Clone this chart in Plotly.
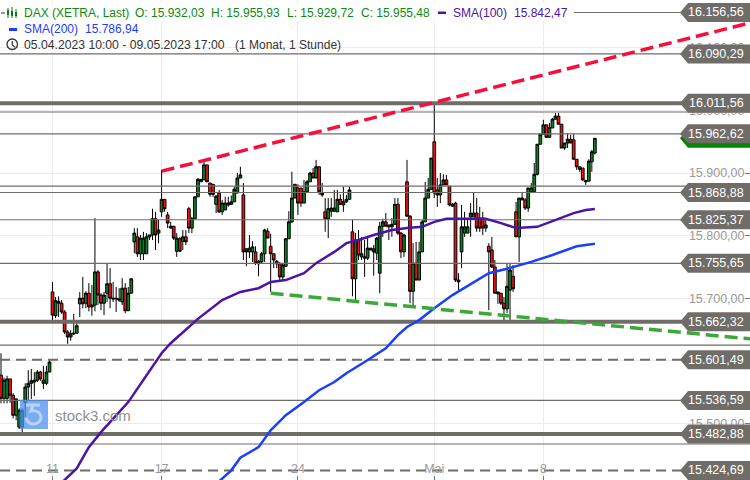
import plotly.graph_objects as go

# ---- candle data (one row per hourly bar: open, high, low, close)
ohlc = [
(15577,15612,15532,15540),(15540,15573,15532,15569),(15540,15576,15532,15571),(15571,15571,15533,15545),
(15545,15548,15508,15513),(15513,15540,15505,15539),(15494,15524,15491,15521),(15494,15524,15486,15521),
(15533,15564,15510,15558),(15558,15585,15537,15564),(15564,15587,15539,15568),(15566,15582,15544,15569),
(15569,15585,15566,15582),(15582,15584,15568,15571),(15569,15592,15555,15564),(15564,15592,15561,15582),
(15582,15601,15582,15598),
(15710,15726,15665,15673),(15672,15702,15668,15696),(15692,15703,15670,15695),(15692,15697,15675,15678),
(15678,15681,15643,15646),(15646,15649,15627,15638),(15638,15649,15632,15643),(15643,15675,15641,15644),
(15644,15660,15644,15656),
(15691,15710,15670,15700),
(15700,15734,15684,15691),(15692,15711,15684,15708),(15708,15724,15679,15686),(15686,15721,15672,15689),
(15689,15828,15679,15742),(15742,15745,15689,15705),(15705,15708,15681,15692),(15692,15710,15673,15705),
(15708,15755,15694,15723),(15723,15748,15684,15700),(15700,15726,15694,15699),(15700,15718,15678,15699),
(15699,15716,15694,15697),(15694,15732,15689,15716),(15716,15724,15676,15680),(15680,15718,15680,15708),
(15708,15732,15708,15731),
(15790,15812,15772,15804),(15798,15812,15766,15771),(15771,15801,15761,15796),(15771,15806,15761,15796),
(15771,15804,15771,15798),(15798,15801,15793,15801),(15801,15843,15793,15827),(15827,15838,15777,15801),
(15804,15825,15788,15809),
(15838,15905,15830,15858),(15858,15858,15838,15843),(15833,15838,15812,15820),(15812,15822,15811,15815),
(15815,15815,15793,15796),(15775,15804,15766,15796),(15795,15798,15774,15775),(15791,15809,15777,15798),
(15798,15809,15785,15790),
(15843,15846,15804,15812),(15812,15830,15804,15827),(15827,15862,15827,15862),(15862,15892,15862,15890),
(15886,15890,15886,15890),(15889,15918,15889,15913),(15913,15913,15886,15886),(15884,15884,15862,15866),
(15882,15882,15862,15866),
(15850,15865,15836,15863),(15868,15873,15836,15838),(15838,15857,15833,15852),(15841,15862,15841,15852),
(15849,15862,15846,15852),(15850,15864,15849,15854),(15854,15878,15854,15874),(15868,15900,15868,15892),
(15892,15910,15892,15897),
(15865,15884,15761,15774),(15779,15779,15751,15774),(15774,15801,15764,15780),(15774,15791,15758,15782),
(15774,15783,15753,15756),(15759,15761,15735,15755),(15758,15774,15756,15771),(15771,15811,15758,15809),
(15807,15812,15796,15796),
(15783,15803,15710,15771),(15771,15771,15748,15761),(15759,15761,15748,15755),(15755,15758,15729,15734),
(15734,15756,15729,15753),(15751,15796,15751,15795),(15795,15839,15795,15822),(15822,15902,15820,15860),
(15860,15882,15860,15882),
(15876,15882,15833,15852),(15876,15876,15846,15852),(15852,15889,15852,15870),(15870,15889,15870,15886),
(15886,15902,15886,15900),(15900,15908,15892,15892),(15892,15921,15892,15910),(15910,15911,15865,15870),
(15868,15884,15862,15865),
(15838,15860,15806,15827),(15827,15860,15796,15843),(15839,15860,15830,15844),(15839,15873,15838,15844),
(15838,15873,15838,15858),(15858,15866,15849,15850),(15849,15878,15838,15854),(15854,15865,15852,15858),
(15858,15878,15858,15873),
(15806,15825,15703,15731),(15731,15804,15697,15793),(15793,15809,15761,15769),(15766,15798,15761,15771),
(15764,15793,15734,15766),(15764,15798,15761,15780),(15777,15780,15777,15780),(15779,15785,15736,15774),
(15772,15798,15761,15796),
(15740,15822,15708,15815),(15815,15827,15798,15822),(15822,15836,15815,15815),(15817,15817,15793,15814),
(15814,15828,15798,15818),(15818,15860,15818,15850),(15850,15860,15801,15804),(15804,15806,15764,15774),
(15774,15803,15766,15801),
(15886,15921,15830,15831),(15831,15833,15692,15711),(15711,15788,15689,15756),(15756,15790,15729,15729),
(15729,15790,15729,15774),(15774,15825,15774,15822),(15822,15886,15822,15860),(15860,15892,15860,15874),
(15874,15924,15874,15924),
(15950,16012,15860,15868),(15873,15892,15846,15865),(15865,15900,15852,15881),(15881,15898,15881,15889),
(15889,15897,15881,15881),(15879,15879,15847,15849),(15847,15852,15846,15850),(15852,15854,15726,15729),
(15729,15740,15713,15726),
(15774,15849,15748,15814),(15804,15838,15798,15814),(15804,15825,15804,15814),(15830,15852,15798,15836),
(15830,15868,15830,15836),(15836,15860,15806,15812),(15828,15846,15806,15812),(15828,15838,15801,15812),
(15812,15825,15806,15817),
(15783,15788,15681,15774),(15777,15798,15748,15750),(15750,15761,15708,15708),(15707,15710,15691,15710),
(15708,15708,15689,15692),(15692,15702,15665,15683),(15683,15756,15676,15719),(15713,15756,15665,15745),
(15735,15753,15710,15715),
(15838,15854,15798,15798),(15798,15860,15758,15860),(15860,15868,15857,15857),(15857,15860,15841,15844),
(15844,15876,15838,15876),(15870,15884,15870,15876),(15870,15916,15870,15898),(15898,15946,15896,15946),
(15946,15962,15946,15962),
(15962,15985,15962,15977),(15977,15977,15957,15957),(15957,15980,15957,15973),(15972,15988,15972,15986),
(15986,15996,15986,15991),(15991,15996,15978,15978),(15978,15978,15940,15940),(15940,15948,15937,15948),
(15948,15964,15940,15954),
(15954,15961,15948,15948),(15953,15962,15922,15922),(15922,15922,15905,15910),(15910,15910,15902,15906),
(15908,15908,15887,15889),(15888,15889,15881,15886),(15887,15922,15887,15919),(15918,15937,15902,15934),
(15932.03,15955.93,15929.72,15955.48),
]
opens = [r[0] for r in ohlc]
highs = [r[1] for r in ohlc]
lows = [r[2] for r in ohlc]
closes = [r[3] for r in ohlc]
bars = list(range(len(ohlc)))

sma100_bar = [20,25,29,33,42,48,53,56,59,65,73,79,85,89,94,100,104,110,114,118,123,129,134,139,143,147,152,160,165,170,177,184,189,193,196]
sma100_val = [15405,15428,15462,15486,15534,15577,15612,15628,15641,15667,15697,15710,15716,15726,15729,15740,15756,15774,15788,15793,15801,15809,15812,15814,15822,15827,15827,15827,15820,15812,15814,15827,15836,15841,15842.47]
sma200_bar = [71,76,79,85,89,94,100,105,110,114,120,123,127,131,134,138,143,149,156,161,167,175,182,190,196]
sma200_val = [15403,15425,15445,15462,15489,15513,15534,15553,15566,15580,15598,15608,15620,15641,15654,15665,15684,15705,15726,15740,15747,15758,15769,15783,15786.94]

res_bar = [53,247.2]
res_val = [15903,16140]
sup_bar = [89,247.2]
sup_val = [15708,15635]

tag_levels = [16156.56,16090.29,16011.56,15962.62,15868.88,15825.37,15755.65,15662.32,15601.49,15536.59,15482.88,15424.69]
tag_text = ["16.156,56","16.090,29","16.011,56","15.962,62","15.868,88","15.825,37","15.755,65","15.662,32","15.601,49","15.536,59","15.482,88","15.424,69"]
thick_levels = [16011.56,15662.32,15482.88]
dashed_levels = [15601.49,15424.69]
extra_levels = [15997.5,15879,15625,15467]

y_ticks = [15500,15600,15700,15800,15900,16000,16100]
y_labels = ["15.500,00","15.600,00","15.700,00","15.800,00","15.900,00","16.000,00","16.100,00"]
x_ticks = [17,53,98,143,179]
x_labels = ["11","17","24","Mai","8"]

last_price = 15955.48

FONT = "Liberation Sans"
GREY = "#706c68"
GREEN = "#087f23"
RED = "#f01010"
PURPLE = "#4a14a8"
BLUE = "#1a40ff"
TXT_GREEN = "#0b8a12"
W, H = 750, 480

def X(p): return p / W
def Y(p): return 1 - p / H

fig = go.Figure()
fig.add_trace(go.Candlestick(
    x=bars, open=opens, high=highs, low=lows, close=closes,
    whiskerwidth=0,
    increasing=dict(line=dict(color="#000000", width=1), fillcolor=GREEN),
    decreasing=dict(line=dict(color="#000000", width=1), fillcolor=RED),
    showlegend=False, hoverinfo="skip"))

x0, x1 = -0.33, 247.2
for lv in tag_levels + extra_levels:
    if lv in thick_levels:
        line = dict(color=GREY, width=4)
    elif lv in dashed_levels:
        line = dict(color=GREY, width=2, dash="10px,6px")
    else:
        line = dict(color=GREY, width=1.2)
    fig.add_trace(go.Scatter(x=[x0, x1], y=[lv, lv], mode="lines", line=line, showlegend=False, hoverinfo="skip"))

fig.add_trace(go.Scatter(x=sma100_bar, y=sma100_val, mode="lines", line=dict(color=PURPLE, width=2.5), showlegend=False, hoverinfo="skip"))
fig.add_trace(go.Scatter(x=sma200_bar, y=sma200_val, mode="lines", line=dict(color=BLUE, width=2.5), showlegend=False, hoverinfo="skip"))
fig.add_trace(go.Scatter(x=res_bar, y=res_val, mode="lines", line=dict(color="#f5103c", width=3.5, dash="13px,6px"), showlegend=False, hoverinfo="skip"))
fig.add_trace(go.Scatter(x=sup_bar, y=sup_val, mode="lines", line=dict(color="#3aa93a", width=3.5, dash="13px,6px"), showlegend=False, hoverinfo="skip"))

shapes = []
half = 9.5 / 0.6258

def tag_path(v):
    a, b, c = X(680), X(688), 1
    return f"M {a},{v} L {b},{v+half} L {c},{v+half} L {c},{v-half} L {b},{v-half} Z"

# current price tag, partly hidden by the level tag
shapes.append(dict(type="path", xref="paper", yref="y", path=tag_path(last_price), fillcolor="#078207", line=dict(width=0), layer="above"))
for v in tag_levels:
    shapes.append(dict(type="path", xref="paper", yref="y", path=tag_path(v), fillcolor=GREY, line=dict(width=0), layer="above"))

def prect(x0_, y0_, x1_, y1_, **kw):
    d = dict(type="rect", xref="paper", yref="paper", x0=X(x0_), x1=X(x1_), y0=Y(y1_), y1=Y(y0_), layer="above")
    d.update(kw)
    return d

def pline(x0_, y0_, x1_, y1_, color, width):
    return dict(type="line", xref="paper", yref="paper", x0=X(x0_), x1=X(x1_), y0=Y(y0_), y1=Y(y1_), layer="above", line=dict(color=color, width=width))

# white background of the title block
shapes.append(prect(0, 3, 574, 21, fillcolor="white", line=dict(width=0)))
# icons of the title block
shapes.append(pline(1, 13, 5, 13, "#333333", 1))
for cx, top, bot, t2, b2 in [(8, 8, 18, 10, 15), (12, 7, 18, 11, 16), (16, 9, 18, 12, 16)]:
    shapes.append(pline(cx, top, cx, bot, "#0a7a1e", 1))
    shapes.append(prect(cx - 1, t2, cx + 1, b2, fillcolor="#0a7a1e", line=dict(width=0)))
shapes.append(prect(438, 11.5, 446, 14, fillcolor=PURPLE, line=dict(width=0)))
shapes.append(prect(9, 28, 17, 31, fillcolor=BLUE, line=dict(width=0)))
shapes.append(dict(type="circle", xref="paper", yref="paper", x0=X(7), x1=X(17.5), y0=Y(49.5), y1=Y(39), layer="above", line=dict(color="#333333", width=1.3)))
shapes.append(pline(12.3, 41, 12.3, 45, "#333333", 1.2))
shapes.append(pline(12.3, 45, 15, 47, "#333333", 1.2))

# stock3 watermark
shapes.append(prect(20, 400, 48, 429, fillcolor="#4d90f0", opacity=0.75, line=dict(width=0)))
logo = f"M {X(26)},{Y(405)} L {X(40)},{Y(405)} M {X(33)},{Y(405)} L {X(31)},{Y(411)} C {X(44)},{Y(409)} {X(44)},{Y(424)} {X(33)},{Y(424)} C {X(29)},{Y(424)} {X(27)},{Y(421)} {X(26)},{Y(418)}"
shapes.append(dict(type="path", xref="paper", yref="paper", path=logo, line=dict(color="#b9d4fa", width=3), layer="above"))

annotations = []

def txt(px, py, s, color, size=12, anchor="left"):
    annotations.append(dict(xref="paper", yref="paper", x=X(px), y=Y(py), text=s, showarrow=False,
                            xanchor=anchor, yanchor="middle", font=dict(family=FONT, size=size, color=color),
                            borderpad=0, align="left"))

txt(23, 13, "DAX (XETRA, Last)", TXT_GREEN)
txt(134, 13, "O: 15.932,03", TXT_GREEN)
txt(210, 13, "H: 15.955,93", TXT_GREEN)
txt(286, 13, "L: 15.929,72", TXT_GREEN)
txt(360, 13, "C: 15.955,48", TXT_GREEN)
txt(452, 13, "SMA(100)", PURPLE)
txt(513, 13, "15.842,47", PURPLE)
txt(23, 29, "SMA(200)", BLUE)
txt(84, 29, "15.786,94", BLUE)
txt(23, 45, "05.04.2023 10:00 - 09.05.2023 17:00", "#333333", size=12.2)
txt(234, 45, "(1 Monat, 1 Stunde)", "#333333")
txt(54, 415, "stock3.com", "#8f8f8f", size=15)

for v, s in zip(tag_levels, tag_text):
    annotations.append(dict(xref="paper", yref="y", x=X(744.5), y=v, text=s, showarrow=False, xanchor="right",
                            yanchor="middle", font=dict(family=FONT, size=12.5, color="white"), borderpad=0))

fig.update_layout(
    width=W, height=H, autosize=False,
    margin=dict(l=0, r=0, t=0, b=0),
    paper_bgcolor="white", plot_bgcolor="white",
    showlegend=False, boxgap=0, boxgroupgap=0.1,
    font=dict(family=FONT),
    shapes=shapes, annotations=annotations,
    xaxis=dict(range=[x0, x1], domain=[0, 1], tickmode="array", tickvals=x_ticks, ticktext=x_labels,
               ticklabelposition="inside", ticks="inside", ticklen=4, tickcolor="#777777",
               showgrid=True, gridcolor="#ececec", gridwidth=1, zeroline=False, showline=False,
               rangeslider=dict(visible=False), tickfont=dict(family=FONT, size=12.5, color="#9a9a9a")),
    yaxis=dict(range=[15409.5, 16176.5], domain=[0, 1], side="right", tickmode="array", tickvals=y_ticks, ticktext=y_labels,
               ticklabelposition="inside", ticks="inside", ticklen=5, tickcolor="#777777",
               showgrid=True, gridcolor="#ececec", gridwidth=1, zeroline=False, showline=False,
               tickfont=dict(family=FONT, size=12.5, color="#9a9a9a")),
)

fig.write_html("out.html", config=dict(displayModeBar=False),
               post_script="document.documentElement.style.overflow='hidden';document.body.style.margin='0';document.body.style.padding='0';")
